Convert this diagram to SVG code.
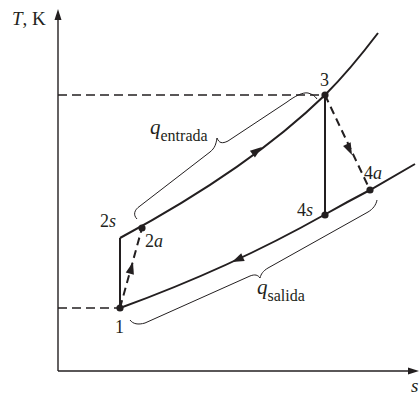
<svg xmlns="http://www.w3.org/2000/svg" width="419" height="395" viewBox="0 0 419 395">
<style>
.ax{stroke:#231f20;stroke-width:1.4;fill:none}
.guide{stroke:#231f20;stroke-width:1.3;fill:none;stroke-dasharray:9 5}
.proc{stroke:#231f20;stroke-width:2;fill:none}
.proc-d{stroke:#231f20;stroke-width:2;fill:none;stroke-dasharray:8 5}
.brace{stroke:#231f20;stroke-width:1;fill:none}
.pt{fill:#231f20}
.ah{fill:#231f20}
text{font-family:"Liberation Serif","Times New Roman",serif;fill:#231f20}
.lbl{font-size:18px}
.axl{font-size:19px}
.it{font-style:italic}
.q{font-style:italic;font-size:21px}
.sub{font-size:16px}
</style>
<defs>
<path id="arr" d="M0,0 L-12,-4.2 L-12,4.2 Z"/>
</defs>

<g id="axes">
<line class="ax" x1="58" y1="371" x2="58" y2="18"/>
<path class="ah" d="M58,9 L54.5,20 L61.5,20 Z"/>
<line class="ax" x1="58" y1="371" x2="411" y2="371"/>
<path class="ah" d="M419,371 L408,367.5 L408,374.5 Z"/>
<text class="axl" x="12" y="25"><tspan class="it">T</tspan>, K</text>
<text class="axl it" x="411" y="392">s</text>
</g>

<g id="connectors">
<line class="guide" x1="58" y1="95" x2="325" y2="95"/>
<line class="guide" x1="58" y1="308" x2="120" y2="308"/>
<path id="high-p" class="proc" d="M120,238 Q250,168 325,95 Q350,70 378,33"/>
<path id="low-p" class="proc" d="M120,308 Q230,268 324,215 Q347,202 370,190 L415,164"/>
<line class="proc" x1="120" y1="308" x2="120" y2="238" stroke-width="1.7"/>
<line class="proc" x1="325" y1="95" x2="325" y2="215" stroke-width="2.6"/>
<line class="proc-d" x1="120" y1="308" x2="142" y2="228"/>
<line class="proc-d" x1="325" y1="95" x2="370" y2="190"/>
<use href="#arr" class="ah" transform="translate(262,147) rotate(-37)"/>
<use href="#arr" class="ah" transform="translate(232,262) rotate(156)"/>
<use href="#arr" class="ah" transform="translate(133,262) rotate(-74.6)"/>
<use href="#arr" class="ah" transform="translate(352,155) rotate(64.6)"/>
</g>

<g id="q-entrada">
<path class="brace" d="M137,219 C133,215 134,210 140,206 L210,152 C215,148 216,144 217,138 C219,143 222,144 228,141 L287,102 C295,96 303,92 308,93 C312,94 315,96 317,99"/>
<text x="150" y="134"><tspan class="q">q</tspan><tspan class="sub" dy="7">entrada</tspan></text>
</g>

<g id="q-salida">
<path class="brace" d="M130,320 C133,324 138,325 145,323 L250,276 C255,274 258,275 260,278 C261,274 263,271 268,268 L368,212 C373,209 376,205 377,200"/>
<text x="257" y="294"><tspan class="q">q</tspan><tspan class="sub" dy="7">salida</tspan></text>
</g>

<g id="node-1">
<circle class="pt" cx="120" cy="308" r="3.6"/>
<text class="lbl" x="115" y="333">1</text>
</g>
<g id="node-2s">
<text class="lbl" x="100" y="227">2<tspan class="it">s</tspan></text>
</g>
<g id="node-2a">
<circle class="pt" cx="142" cy="228" r="3.6"/>
<text class="lbl" x="145" y="247">2<tspan class="it">a</tspan></text>
</g>
<g id="node-3">
<circle class="pt" cx="325" cy="95" r="3.6"/>
<text class="lbl" x="320" y="86">3</text>
</g>
<g id="node-4s">
<circle class="pt" cx="325" cy="215" r="3.6"/>
<text class="lbl" x="297" y="216">4<tspan class="it">s</tspan></text>
</g>
<g id="node-4a">
<circle class="pt" cx="370" cy="190" r="3.6"/>
<text class="lbl" x="364" y="179">4<tspan class="it">a</tspan></text>
</g>
</svg>
